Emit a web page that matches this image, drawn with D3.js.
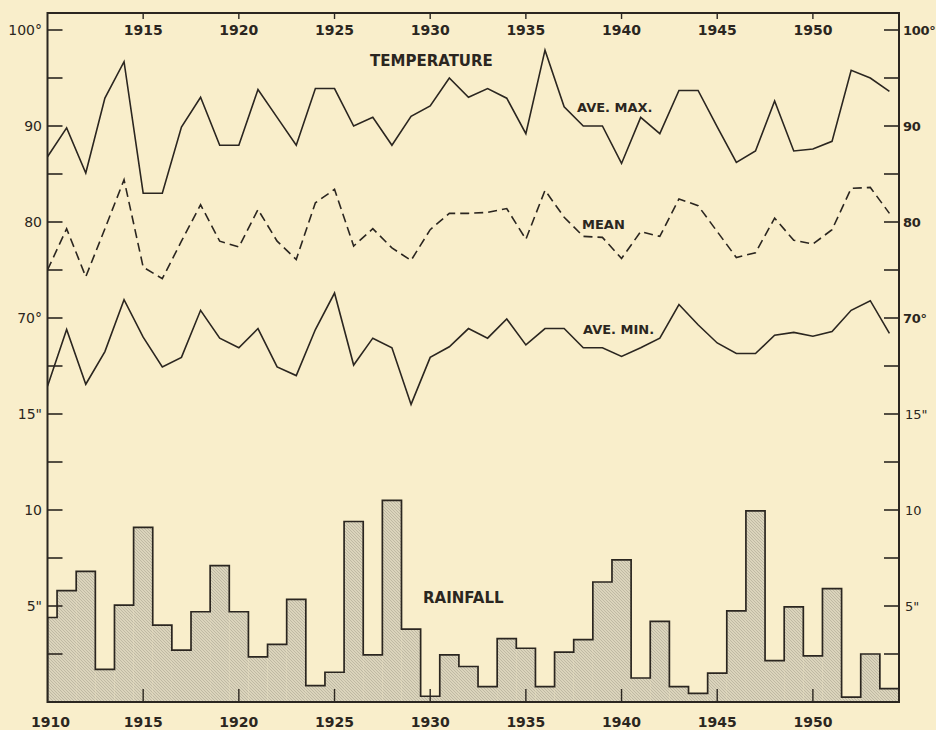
<!DOCTYPE html>
<html>
<head>
<meta charset="utf-8">
<script src="https://cdn.jsdelivr.net/npm/d3@7/dist/d3.min.js"></script>
<style>
  html, body { margin: 0; padding: 0; background: #f9eecb; }
  svg { display: block; }
  text { font-family: "DejaVu Sans", sans-serif; fill: #2b2620; }
</style>
</head>
<body>
<svg id="chart" width="936" height="730"></svg>
<script>
// ---------------- data ----------------
const years = [1910,1911,1912,1913,1914,1915,1916,1917,1918,1919,
               1920,1921,1922,1923,1924,1925,1926,1927,1928,1929,
               1930,1931,1932,1933,1934,1935,1936,1937,1938,1939,
               1940,1941,1942,1943,1944,1945,1946,1947,1948,1949,
               1950,1951,1952,1953,1954];

const aveMax = [86.8,89.8,85.1,92.9,96.7,83.0,83.0,89.9,93.0,88.0,
                88.0,93.8,90.9,88.0,93.9,93.9,90.0,90.9,88.0,91.0,
                92.1,95.0,93.0,93.9,92.9,89.2,97.9,92.0,90.0,90.0,
                86.1,90.9,89.2,93.7,93.7,89.9,86.2,87.4,92.6,87.4,
                87.6,88.4,95.8,95.0,93.6];

const meanTemp = [75.0,79.3,74.3,79.3,84.4,75.3,74.1,78.0,81.8,78.0,
                  77.4,81.3,78.0,76.1,82.0,83.4,77.5,79.3,77.3,76.0,
                  79.2,80.9,80.9,81.0,81.4,78.2,83.3,80.5,78.5,78.4,
                  76.2,79.0,78.5,82.4,81.7,79.0,76.3,76.8,80.4,78.1,
                  77.7,79.2,83.5,83.6,80.9];

const aveMin = [62.9,68.8,63.1,66.5,71.9,68.0,64.9,65.9,70.8,67.9,
                66.9,68.9,64.9,64.0,68.8,72.6,65.1,67.9,66.9,61.0,
                65.9,67.0,68.9,67.9,69.9,67.2,68.9,68.9,66.9,66.9,
                66.0,66.9,67.9,71.4,69.3,67.4,66.3,66.3,68.2,68.5,
                68.1,68.6,70.8,71.8,68.4];

const rainfall = [4.4,5.8,6.8,1.7,5.05,9.1,4.0,2.7,4.7,7.1,
                  4.7,2.35,3.0,5.35,0.85,1.55,9.4,2.45,10.5,3.8,
                  0.3,2.45,1.85,0.8,3.3,2.8,0.8,2.6,3.25,6.25,
                  7.4,1.25,4.2,0.8,0.45,1.5,4.75,9.95,2.15,4.95,
                  2.4,5.9,0.25,2.5,0.7];

const topYearTicks = [1915,1920,1925,1930,1935,1940,1945,1950];
const bottomYearTicks = [1910,1915,1920,1925,1930,1935,1940,1945,1950];

const tempTicks = [65,70,75,80,85,90,95,100];
const rainTicks = [2.5,5,7.5,10,12.5,15];
const tempLabelsLeft  = [[100,"100°"],[90,"90"],[80,"80"],[70,"70°"]];
const tempLabelsRight = [[100,"100°"],[90,"90"],[80,"80"],[70,"70°"]];
const rainLabels = [[15,"15\""],[10,"10"],[5,"5\""]];

// ---------------- layout ----------------
const svg = d3.select("#chart");
const L = 47.5, R = 899, T = 13, B = 702;
const ink = "#2b2620";

const x = d3.scaleLinear().domain([1910, 1954.5]).range([L, R]);
const yT = d3.scaleLinear().domain([30, 100]).range([B, 30]);
const yR = d3.scaleLinear().domain([0, 35]).range([B, 30]);

// hatch pattern for rainfall bars
const defs = svg.append("defs");
const pat = defs.append("pattern").attr("id","hatch")
  .attr("patternUnits","userSpaceOnUse").attr("width",3).attr("height",3);
pat.append("rect").attr("width",3).attr("height",3).attr("fill","#dbd4bc");
pat.append("path").attr("d","M-1,-1 L4,4 M-1,2 L1,4 M2,-1 L4,1")
  .attr("stroke","#aca692").attr("stroke-width",0.6);
defs.append("clipPath").attr("id","plotclip").append("rect")
  .attr("x",L).attr("y",T).attr("width",R-L).attr("height",B-T);

const plot = svg.append("g").attr("clip-path","url(#plotclip)");

// ---------------- rainfall bars ----------------
const rainData = years.map((yr,i)=>({yr, v: rainfall[i]}));
plot.selectAll("rect.bar").data(rainData).enter().append("rect")
  .attr("class","bar")
  .attr("x", d => Math.max(x(d.yr-0.5), x(1910)))
  .attr("width", d => x(d.yr+0.5) - Math.max(x(d.yr-0.5), x(1910)))
  .attr("y", d => yR(d.v))
  .attr("height", d => yR(0) - yR(d.v))
  .attr("fill","url(#hatch)");

// step outline
const stepPts = [[1910, 0]];
rainData.forEach(d => {
  stepPts.push([Math.max(d.yr-0.5,1910), d.v]);
  stepPts.push([d.yr+0.5, d.v]);
});
stepPts.push([1954.5, 0]);
plot.append("path")
  .attr("d", d3.line().x(p=>x(p[0])).y(p=>yR(p[1]))(stepPts))
  .attr("fill","none").attr("stroke",ink).attr("stroke-width",1.7)
  .attr("stroke-linejoin","miter");

// ---------------- temperature lines ----------------
const lineT = d3.line().x(d=>x(d[0])).y(d=>yT(d[1]));
function drawSeries(vals, dash) {
  plot.append("path")
    .attr("d", lineT(years.map((yr,i)=>[yr, vals[i]])))
    .attr("fill","none").attr("stroke",ink).attr("stroke-width",1.6)
    .attr("stroke-linejoin","miter")
    .attr("stroke-dasharray", dash || null);
}
drawSeries(aveMax);
drawSeries(meanTemp, "9,5");
drawSeries(aveMin);

// ---------------- frame & ticks ----------------
const frame = svg.append("g").attr("stroke",ink).attr("fill","none");
frame.append("rect").attr("x",L).attr("y",T).attr("width",R-L).attr("height",B-T)
  .attr("stroke-width",2);

const tickYs = tempTicks.map(v=>yT(v)).concat(rainTicks.map(v=>yR(v)));
tickYs.forEach(ty => {
  frame.append("line").attr("x1",L).attr("x2",L+15).attr("y1",ty).attr("y2",ty).attr("stroke-width",1.6);
  frame.append("line").attr("x1",R-15).attr("x2",R).attr("y1",ty).attr("y2",ty).attr("stroke-width",1.6);
});
topYearTicks.forEach(yr => {
  frame.append("line").attr("x1",x(yr)).attr("x2",x(yr)).attr("y1",T).attr("y2",T+6).attr("stroke-width",1.4);
});
bottomYearTicks.filter(yr=>yr>1910).forEach(yr => {
  frame.append("line").attr("x1",x(yr)).attr("x2",x(yr)).attr("y1",B).attr("y2",B-13).attr("stroke-width",1.4);
});

// ---------------- labels ----------------
const lab = svg.append("g").attr("font-weight","bold");
topYearTicks.forEach(yr => {
  lab.append("text").attr("x",x(yr)).attr("y",35).attr("text-anchor","middle")
    .attr("font-size",14).text(yr);
});
bottomYearTicks.forEach(yr => {
  lab.append("text").attr("x",x(yr)+(yr===1910?3:0)).attr("y",727).attr("text-anchor","middle")
    .attr("font-size",14).text(yr);
});
tempLabelsLeft.forEach(([v,t]) => {
  lab.append("text").attr("x",42).attr("y",yT(v)+5).attr("text-anchor","end")
    .attr("font-size",14).attr("font-weight","normal").text(t);
});
rainLabels.forEach(([v,t]) => {
  lab.append("text").attr("x",42).attr("y",yR(v)+5).attr("text-anchor","end")
    .attr("font-size",14).attr("font-weight","normal").text(t);
});
tempLabelsRight.forEach(([v,t]) => {
  lab.append("text").attr("x",903).attr("y",yT(v)+5).attr("text-anchor","start")
    .attr("font-size",13).attr("letter-spacing",-0.3).text(t);
});
rainLabels.forEach(([v,t]) => {
  lab.append("text").attr("x",905).attr("y",yR(v)+5).attr("text-anchor","start")
    .attr("font-size",13).attr("font-weight","normal").text(t);
});

lab.append("text").attr("x",370).attr("y",66).attr("font-size",15).text("TEMPERATURE");
lab.append("text").attr("x",577).attr("y",112).attr("font-size",13).text("AVE. MAX.");
lab.append("text").attr("x",582).attr("y",229).attr("font-size",13).text("MEAN");
lab.append("text").attr("x",583).attr("y",334).attr("font-size",13).text("AVE. MIN.");
lab.append("text").attr("x",423).attr("y",603).attr("font-size",15).text("RAINFALL");
</script>
</body>
</html>
